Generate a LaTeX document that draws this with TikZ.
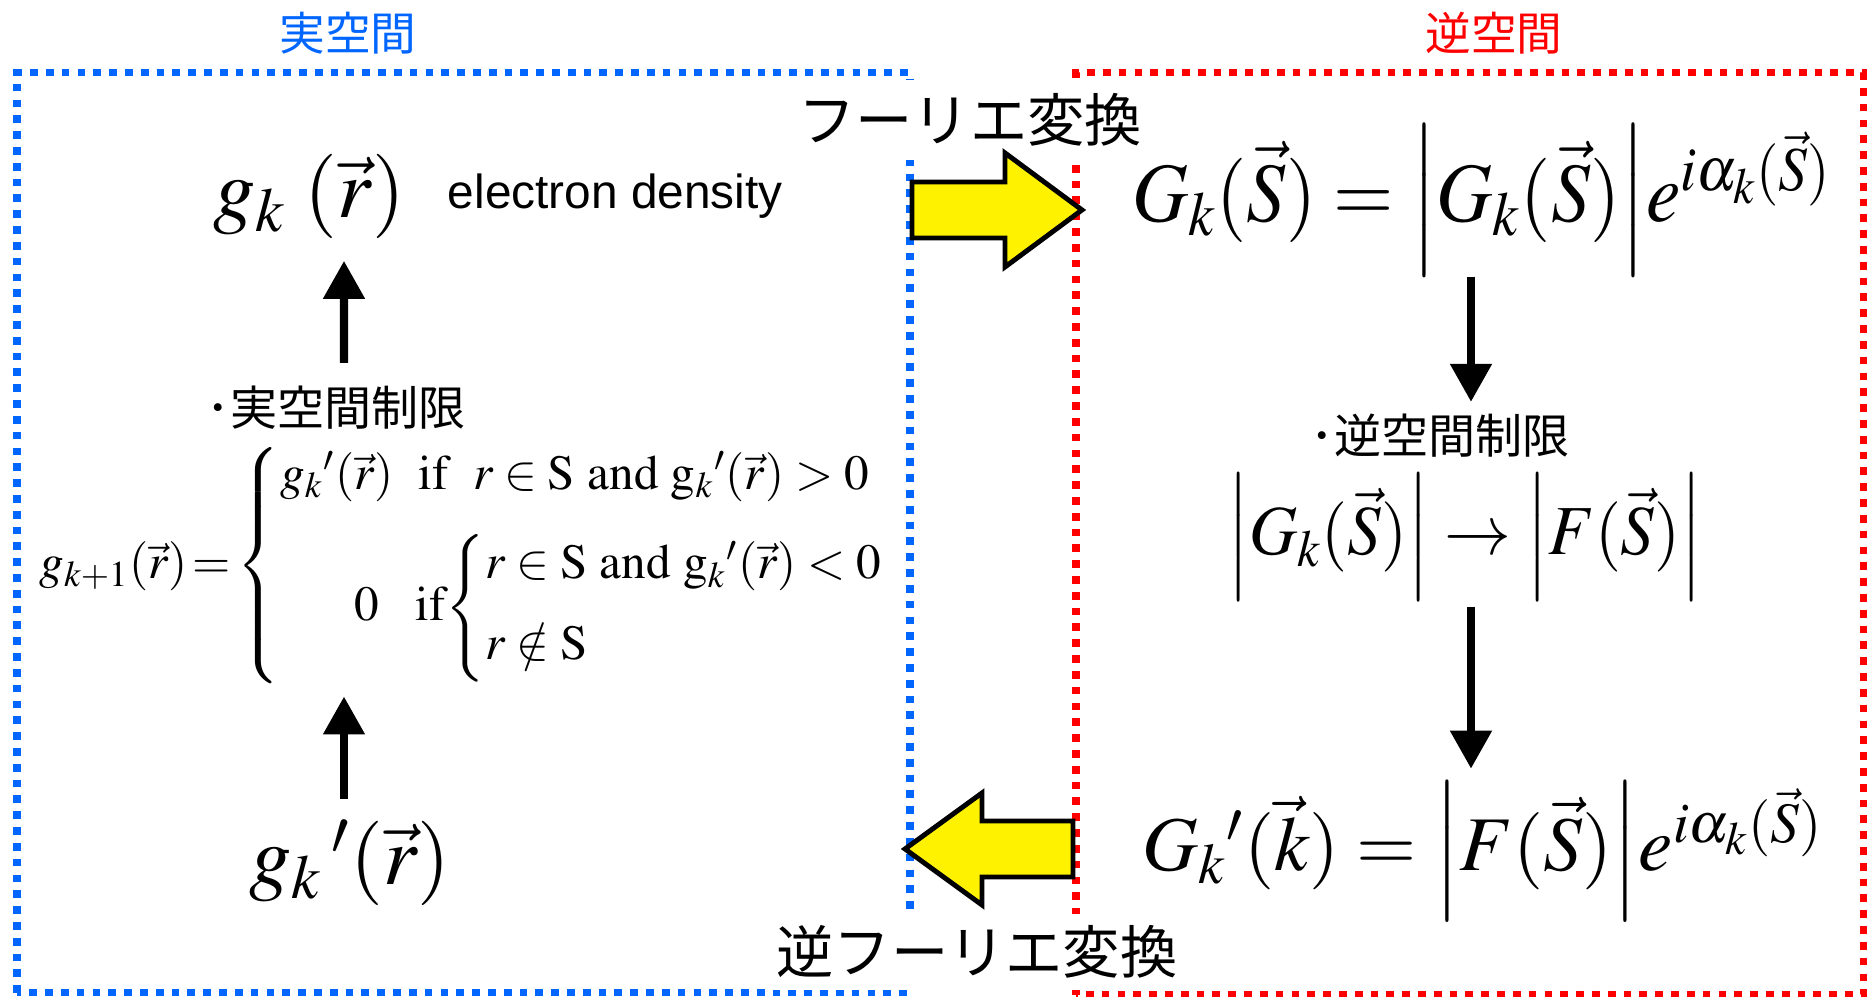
\documentclass[tikz,border=0pt]{standalone}
\usepackage{amsmath,amssymb}
\usepackage{mathptmx}
\usepackage{fontspec}
\setmainfont{Liberation Serif}
\newfontfamily\jpfont{Noto Sans CJK JP}
\newfontfamily\arialfont{Liberation Sans}
\usepackage{tikz}
\usetikzlibrary{arrows.meta,positioning,calc}
\usepackage{xcolor}
\definecolor{realblue}{RGB}{0,102,255}
\definecolor{recipred}{RGB}{255,0,0}

\tikzset{
  realbox/.style={draw=realblue, line width=2pt, dash pattern=on 2.2pt off 2.3pt},
  recipbox/.style={draw=recipred, line width=2pt, dash pattern=on 2.2pt off 2.3pt},
  flowarrow/.style={-{Triangle[width=0.4cm,length=0.38cm]}, line width=2.3pt},
  blockarrow/.style={fill=yellow, draw=black, line width=1.4pt, line join=miter},
  mathnode/.style={inner sep=0pt},
  bigmath/.style={mathnode, font=\fontsize{24}{28}\selectfont},
  midmath/.style={font=\fontsize{14}{16}\selectfont},
  jptitle/.style={font=\jpfont\fontsize{13}{15}\selectfont},
  jplimit/.style={font=\jpfont\fontsize{13.4}{15}\selectfont},
  jptrans/.style={font=\jpfont\fontsize{16.3}{18}\selectfont, fill=white, minimum height=0.8cm}
}

\begin{document}
\begin{tikzpicture}
\useasboundingbox (0,0) rectangle (18.67,9.97);
% Real space and reciprocal space frames
\draw[realbox] (0.17,0.04) rectangle (9.10,9.24);
\draw[recipbox] (10.76,0.02) rectangle (18.63,9.24);
\node[jptitle, text=realblue] (realtitle) at (3.48,9.64) {実空間};
\node[jptitle, text=recipred] (reciptitle) at (14.94,9.64) {逆空間};
% Transform labels (white background hides the frame edges)
\node[jptrans] (ft) at (9.70,8.77) {フーリエ変換};
\node[jptrans, minimum height=0.74cm] (ift) at (9.77,0.45) {逆フーリエ変換};
% Yellow block arrows
\draw[blockarrow] (9.12,8.15) -- (10.05,8.15) -- (10.05,8.44) -- (10.82,7.87)
  -- (10.05,7.30) -- (10.05,7.59) -- (9.12,7.59) -- cycle;
\draw[blockarrow] (9.05,1.48) -- (9.82,2.04) -- (9.82,1.76) -- (10.73,1.76)
  -- (10.73,1.20) -- (9.82,1.20) -- (9.82,0.92) -- cycle;
% Real space side
\node[bigmath] (gk) at (3.09,8.01) {$g_{k}\,\left(\vec{r}\right)$};
\node[font=\arialfont\fontsize{13.6}{16}\selectfont, right=0.3cm of gk] (dens) {electron density};
\node[jplimit] (rlim) at (3.36,5.89) {･実空間制限};
\node[midmath, anchor=west] (gnext) at (0.27,4.31) {$g_{k+1}(\vec{r})\!=\!\left\{\begin{array}{@{}l@{}}
  g_{k}{}'(\vec{r})\ \ \mathrm{if}\ \ r\in\mathrm{S}\ \mathrm{and}\ \mathrm{g}_{k}{}'(\vec{r})>0\\[8pt]
  \quad\enspace 0\ \ \ \mathrm{if}\!\left\{\begin{array}{@{}l@{}}
    r\in\mathrm{S}\ \mathrm{and}\ \mathrm{g}_{k}{}'(\vec{r})<0\\[7pt]
    r\notin\mathrm{S}
  \end{array}\right.
  \end{array}\right.$};
\node[bigmath] (gkp) at (3.50,1.34) {$g_{k}\,{}'\!\left(\vec{r}\right)$};
\draw[flowarrow, shorten <=0.11cm, shorten >=0.22cm] ([xshift=0.08cm]rlim.north) -- ([xshift=0.35cm]gk.south);
\draw[flowarrow, shorten <=0.2cm, shorten >=0cm] ([xshift=-0.06cm]gkp.north) -- ([xshift=-0.06cm]gkp.north |- gnext.south);
% Reciprocal space side
\node[bigmath] (Gk) at (14.82,7.97) {\scalebox{0.92}[1]{$G_{k}(\vec{S})=\Big|G_{k}(\vec{S})\Big|e^{i\alpha_{k}(\vec{S})}$}};
\node[jplimit] (klim) at (14.40,5.61) {･逆空間制限};
\node[mathnode, font=\fontsize{20}{24}\selectfont] (amp) at (14.65,4.60) {\scalebox{0.95}[1]{$\Big|G_{k}(\vec{S})\Big|\rightarrow\Big|F(\vec{S})\Big|$}};
\node[mathnode, font=\fontsize{22}{26}\selectfont] (Gkp) at (14.83,1.46) {$G_{k}{}'(\vec{k})=\Big|F(\vec{S})\Big|e^{i\alpha_{k}(\vec{S})}$};
\draw[flowarrow] (Gk.south -| 14.71,0) -- (klim.north -| 14.71,0);
\draw[flowarrow, shorten <=0.06cm, shorten >=0.12cm] (amp.south -| 14.71,0) -- (Gkp.north -| 14.71,0);
\end{tikzpicture}
\end{document}
